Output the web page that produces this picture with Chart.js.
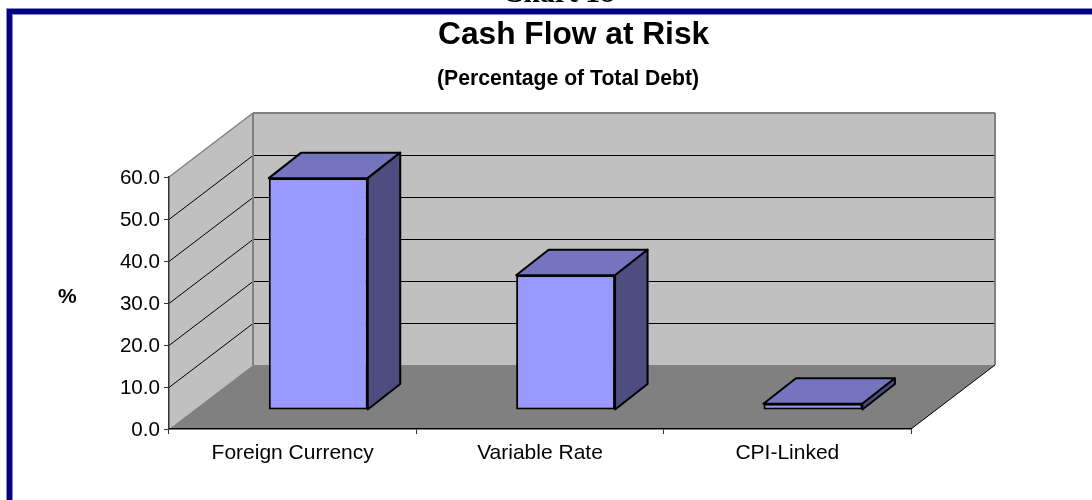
<!DOCTYPE html>
<html lang="en">
<head>
    <meta charset="UTF-8">
    <title>Cash Flow at Risk</title>
    <script src="https://cdn.jsdelivr.net/npm/chart.js"></script>
    <style>
        html, body {
            margin: 0;
            background: #fff;
            overflow: hidden;
        }
        #wrap {
            position: relative;
            width: 1092px;
            height: 500px;
            overflow: hidden;
            font-family: "Liberation Sans", Arial, sans-serif;
            color: #000;
        }
        canvas {
            position: absolute;
            left: 0;
            top: 0;
        }
        #frame {
            position: absolute;
            left: 7px;
            top: 9px;
            width: 1100px;
            height: 520px;
            border: 5.5px solid #000080;
            box-shadow: 0 0 0 1px #8c8cc0, inset 0 0 0 1px #8c8cc0;
            box-sizing: border-box;
        }
        .label {
            position: absolute;
            font-weight: bold;
            white-space: nowrap;
            line-height: 1;
        }
        #sheetTitle {
            left: 502px;
            top: -22px;
            font-family: "Liberation Serif", serif;
            font-size: 29.7px;
        }
        #mainTitle {
            left: 438px;
            top: 18px;
            font-size: 31.7px;
        }
        #subTitle {
            left: 437px;
            top: 67px;
            font-size: 21.2px;
        }
        #unit {
            left: 58px;
            top: 285px;
            font-size: 21px;
        }
    </style>
</head>
<body>
    <div id="wrap">
        <canvas id="myChart" width="1092" height="500"></canvas>
        <div id="frame"></div>
        <div class="label" id="sheetTitle">Chart 18</div>
        <div class="label" id="mainTitle">Cash Flow at Risk</div>
        <div class="label" id="subTitle">(Percentage of Total Debt)</div>
        <div class="label" id="unit">%</div>
    </div>

    <script>
        const categories = ['Foreign Currency', 'Variable Rate', 'CPI-Linked'];
        const debtShare = [55.2, 32.1, 1.5];
        const yTickValues = [0, 10, 20, 30, 40, 50, 60];

        // floor depth of the plot box and of the columns standing on it
        const boxDepth = { x: 84, y: -64 };
        const barShift = { x: 25.6, y: -19 };
        const barDepth = { x: 32.5, y: -25.5 };

        function poly(ctx, points, fill, stroke, width) {
            ctx.beginPath();
            points.forEach((p, i) => i ? ctx.lineTo(p[0], p[1]) : ctx.moveTo(p[0], p[1]));
            ctx.closePath();
            if (fill) {
                ctx.fillStyle = fill;
                ctx.fill();
            }
            if (stroke) {
                ctx.strokeStyle = stroke;
                ctx.lineWidth = width;
                ctx.lineJoin = 'round';
                ctx.stroke();
            }
        }

        function line(ctx, x1, y1, x2, y2, color, width) {
            ctx.beginPath();
            ctx.moveTo(x1, y1);
            ctx.lineTo(x2, y2);
            ctx.strokeStyle = color;
            ctx.lineWidth = width;
            ctx.stroke();
        }

        // walls and floor go under everything, so the axes stay on top
        const plotBox = {
            id: 'plotBox',
            beforeDraw(chart) {
                const { ctx, chartArea: a, scales } = chart;
                const dx = boxDepth.x, dy = boxDepth.y;
                const top = scales.y.getPixelForValue(60);
                const bottom = scales.y.getPixelForValue(0);
                ctx.save();
                poly(ctx, [[a.left + dx, top + dy], [a.right + dx, top + dy], [a.right + dx, bottom + dy], [a.left + dx, bottom + dy]], '#c0c0c0');
                poly(ctx, [[a.left, top], [a.left + dx, top + dy], [a.left + dx, bottom + dy], [a.left, bottom]], '#c0c0c0');
                yTickValues.slice(1, -1).forEach(v => {
                    const y = Math.round(scales.y.getPixelForValue(v)) + 0.5;
                    line(ctx, a.left, y, a.left + dx, y + dy, '#000', 1);
                    line(ctx, a.left + dx, y + dy, a.right + dx, y + dy, '#000', 1);
                });
                poly(ctx, [[a.left, bottom], [a.right, bottom], [a.right + dx, bottom + dy], [a.left + dx, bottom + dy]], '#808080');
                line(ctx, a.left, top, a.left + dx, top + dy, '#808080', 1.5);
                line(ctx, a.left + dx, top + dy, a.right + dx, top + dy, '#808080', 2);
                line(ctx, a.right + dx, top + dy, a.right + dx, bottom + dy, '#808080', 2);
                line(ctx, a.left + dx, top + dy, a.left + dx, bottom + dy, '#808080', 2);
                line(ctx, a.right, bottom, a.right + dx, bottom + dy, '#000', 1);
                ctx.restore();
            }
        };

        // the library draws the front faces, this adds the top and the side
        const columns3d = {
            id: 'columns3d',
            beforeDatasetDraw(chart, args) {
                const ctx = chart.ctx;
                const dx = barDepth.x, dy = barDepth.y;
                ctx.save();
                ctx.translate(barShift.x, barShift.y);
                args.meta.data.forEach(bar => {
                    const l = bar.x - bar.width / 2, r = bar.x + bar.width / 2;
                    poly(ctx, [[l, bar.y], [l + dx, bar.y + dy], [r + dx, bar.y + dy], [r, bar.y]], '#7575bf', '#000', 2);
                    poly(ctx, [[r, bar.y], [r + dx, bar.y + dy], [r + dx, bar.base + dy], [r, bar.base]], '#4d4d80', '#000', 2);
                });
            },
            afterDatasetDraw(chart) {
                chart.ctx.restore();
            }
        };

        const fontFamily = '"Liberation Sans", Arial, sans-serif';

        const ctx = document.getElementById('myChart').getContext('2d');
        const myChart = new Chart(ctx, {
            type: 'bar',
            data: {
                labels: categories,
                datasets: [{
                    label: 'Cash Flow at Risk',
                    data: debtShare,
                    backgroundColor: '#9999ff',
                    borderColor: '#000',
                    borderWidth: 2,
                    borderSkipped: false,
                    barPercentage: 0.4,
                    categoryPercentage: 1,
                    clip: false
                }]
            },
            options: {
                responsive: false,
                animation: false,
                layout: { padding: { left: 0, right: 181, top: 177, bottom: 0 } },
                plugins: {
                    legend: { display: false },
                    tooltip: { enabled: false }
                },
                scales: {
                    x: {
                        afterFit(scale) { scale.height = 71; },
                        border: { color: '#000', width: 1.5 },
                        grid: { drawOnChartArea: false, tickColor: '#333', tickLength: 5 },
                        ticks: { color: '#000', font: { family: fontFamily, size: 21 }, padding: 7, maxRotation: 0 }
                    },
                    y: {
                        min: 0,
                        max: 60,
                        afterFit(scale) { scale.width = 169; },
                        afterBuildTicks(scale) { scale.ticks = yTickValues.map(v => ({ value: v })); },
                        border: { color: '#333', width: 1.5 },
                        grid: { drawOnChartArea: false, tickColor: '#333', tickLength: 5 },
                        ticks: {
                            color: '#000',
                            font: { family: fontFamily, size: 20.6 },
                            padding: 4,
                            labelOffset: 1,
                            callback: v => v.toFixed(1)
                        }
                    }
                }
            },
            plugins: [plotBox, columns3d]
        });
    </script>
</body>
</html>
